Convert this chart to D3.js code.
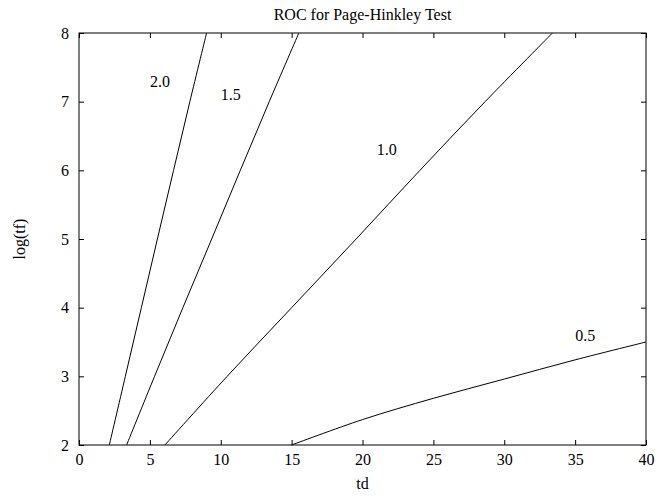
<!DOCTYPE html>
<html>
<head>
<meta charset="utf-8">
<script src="https://cdn.jsdelivr.net/npm/d3@7"></script>
<style>
  body { margin: 0; background: #fff; }
  svg text { font-family: "Liberation Serif", "Times New Roman", serif; font-size: 16px; fill: #000; }
</style>
</head>
<body>
<svg id="svg" width="668" height="502"></svg>
<script>
// ROC curves, one per change magnitude: td values at log(tf) = 2..8
var logTf = [2, 3, 4, 5, 6, 7, 8];
var td20 = [2.14, 3.27, 4.40, 5.53, 6.67, 7.82, 9.0];
var td15 = [3.36, 5.33, 7.33, 9.36, 11.38, 13.42, 15.51];
var td10 = [6.06, 10.45, 15.0, 19.55, 24.05, 28.65, 33.4];
// the 0.5 curve leaves through the right edge
var td05 = [15, 20, 25, 30, 35, 40];
var logTf05 = [2.0, 2.37, 2.68, 2.96, 3.24, 3.5];

var curveNames = ["2.0", "1.5", "1.0", "0.5"];
var labelTd = [5, 10, 21, 35];
var labelLogTf = [7.3, 7.1, 6.3, 3.6];

var xTicks = [0, 5, 10, 15, 20, 25, 30, 35, 40];
var yTicks = [2, 3, 4, 5, 6, 7, 8];

var svg = d3.select("#svg"),
    plotL = 79, plotR = 646, plotT = 33, plotB = 445;

var x = d3.scaleLinear().domain([0, 40]).range([plotL, plotR]);
var y = d3.scaleLinear().domain([2, 8]).range([plotB, plotT]);

var series = [
    d3.zip(td20, logTf),
    d3.zip(td15, logTf),
    d3.zip(td10, logTf),
    d3.zip(td05, logTf05)
];

// frame
svg.append("rect")
    .attr("x", plotL).attr("y", plotT)
    .attr("width", plotR - plotL).attr("height", plotB - plotT)
    .attr("fill", "none").attr("stroke", "#000").attr("stroke-width", 1);

// ticks inward on all four sides
svg.append("g").attr("transform", "translate(0," + plotB + ")")
    .call(d3.axisBottom(x).tickValues(xTicks).tickFormat(d3.format("d")).tickSizeInner(-5).tickSizeOuter(0).tickPadding(9))
    .call(g => g.select(".domain").remove());
svg.append("g").attr("transform", "translate(0," + plotT + ")")
    .call(d3.axisTop(x).tickValues(xTicks).tickSizeInner(-5).tickSizeOuter(0).tickFormat(""))
    .call(g => g.select(".domain").remove());
svg.append("g").attr("transform", "translate(" + plotL + ",0)")
    .call(d3.axisLeft(y).tickValues(yTicks).tickFormat(d3.format("d")).tickSizeInner(-5).tickSizeOuter(0).tickPadding(10))
    .call(g => g.select(".domain").remove());
svg.append("g").attr("transform", "translate(" + plotR + ",0)")
    .call(d3.axisRight(y).tickValues(yTicks).tickSizeInner(-5).tickSizeOuter(0).tickFormat(""))
    .call(g => g.select(".domain").remove());

svg.selectAll(".tick text")
    .attr("font-family", null).attr("font-size", null)
    .style("font-family", '"Liberation Serif", serif').style("font-size", "16px");
svg.selectAll(".tick line").attr("stroke", "#000");

// curves
var line = d3.line()
    .curve(d3.curveCatmullRom)
    .x(function(d) { return x(d[0]); })
    .y(function(d) { return y(d[1]); });

svg.append("g")
    .selectAll("path")
    .data(series)
    .enter()
    .append("path")
    .attr("d", line)
    .attr("fill", "none")
    .attr("stroke", "#000")
    .attr("stroke-width", 1);

// curve labels
svg.append("g")
    .selectAll("text")
    .data(curveNames)
    .enter()
    .append("text")
    .attr("x", function(d, i) { return x(labelTd[i]); })
    .attr("y", function(d, i) { return y(labelLogTf[i]); })
    .attr("dy", "0.35em")
    .text(function(d) { return d; });

// titles
svg.append("text")
    .attr("x", (plotL + plotR) / 2).attr("y", 20)
    .attr("text-anchor", "middle")
    .text("ROC for Page-Hinkley Test");

svg.append("text")
    .attr("x", (plotL + plotR) / 2).attr("y", 489)
    .attr("text-anchor", "middle")
    .text("td");

svg.append("text")
    .attr("transform", "translate(25," + ((plotT + plotB) / 2) + ") rotate(-90)")
    .attr("text-anchor", "middle")
    .text("log(tf)");
</script>
</body>
</html>
